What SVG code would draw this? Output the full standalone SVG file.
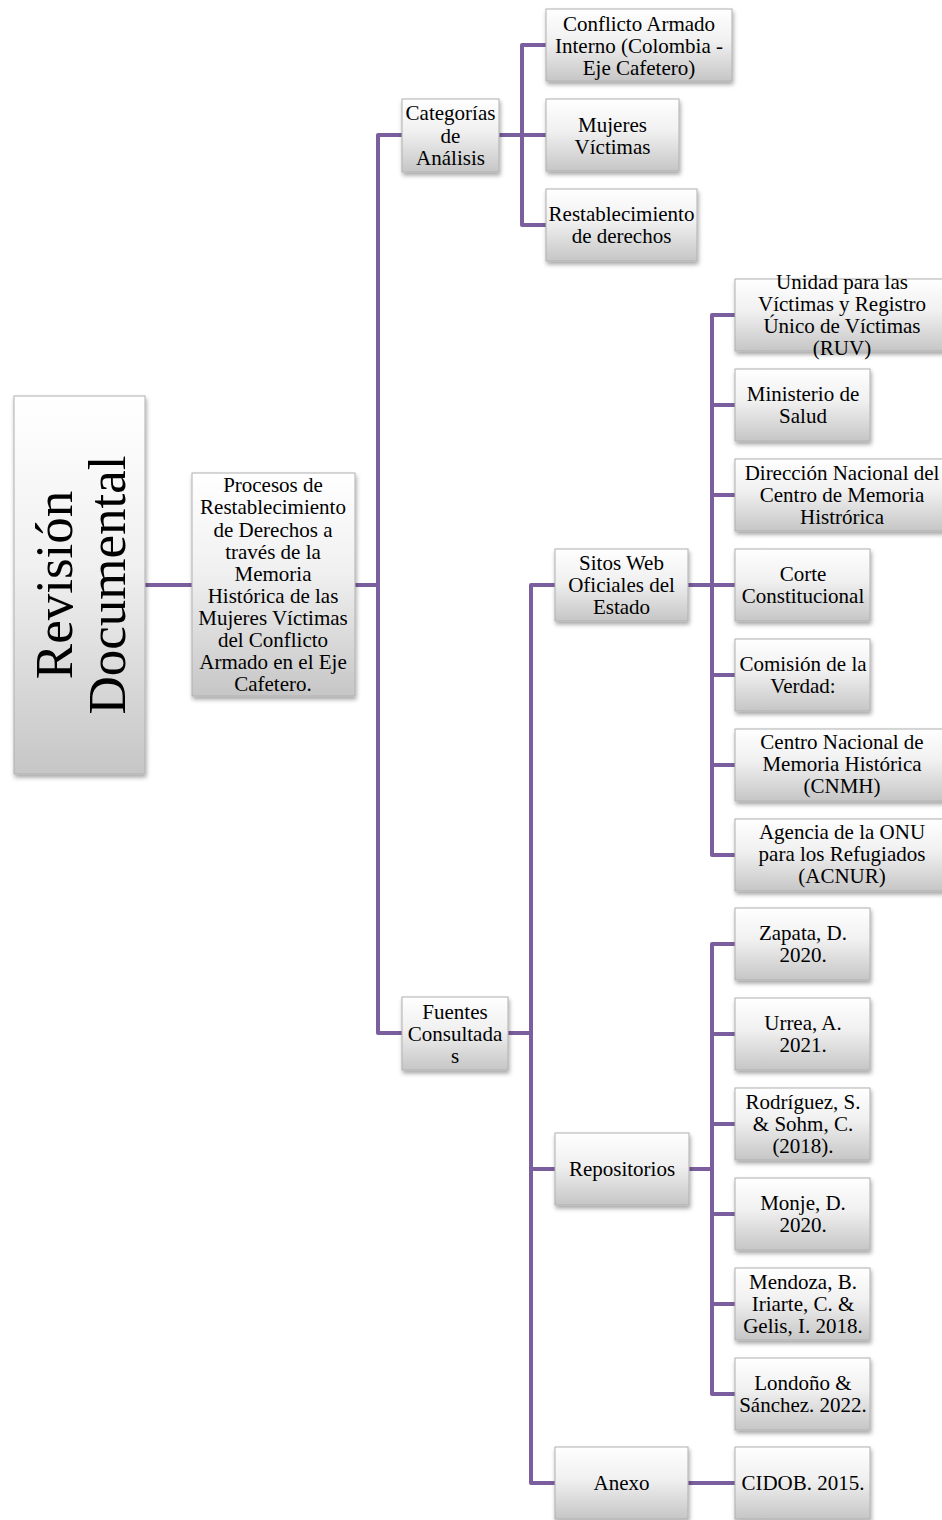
<svg xmlns="http://www.w3.org/2000/svg" width="942" height="1520" viewBox="0 0 942 1520">
<defs>
<linearGradient id="g" x1="0" y1="0" x2="0" y2="1">
<stop offset="0" stop-color="#ffffff"/>
<stop offset="0.45" stop-color="#f0f0f0"/>
<stop offset="1" stop-color="#c6c6c6"/>
</linearGradient>
<filter id="sh" x="-10%" y="-10%" width="125%" height="130%">
<feDropShadow dx="1" dy="3" stdDeviation="2" flood-color="#000" flood-opacity="0.35"/>
</filter>
</defs>
<style>
.b{fill:url(#g);stroke:#b0b0b0;stroke-width:1;filter:url(#sh)}
.hl{fill:none;stroke:#ffffff;stroke-width:1.5;opacity:0.8}
text{font-family:"Liberation Serif","Times New Roman",serif;font-size:21px;fill:#000;text-anchor:middle}
.big{font-size:53px}
.c{fill:none;stroke:#7b5e9e;stroke-width:4;stroke-linejoin:round}
</style>
<rect width="942" height="1520" fill="#ffffff"/>
<g id="connectors">
<path class="c" d="M145,585H192"/>
<path class="c" d="M355,585H378M402,135H378V1033H402"/>
<path class="c" d="M499,135H546M546,45H522V225H546"/>
<path class="c" d="M508,1033H531M555,585H531V1483H555M531,1169H555"/>
<path class="c" d="M688,585H735M735,315H712V855H735M712,405H735M712,495H735M712,675H735M712,765H735"/>
<path class="c" d="M689,1169H712M735,944H712V1394H735M712,1034H735M712,1124H735M712,1214H735M712,1304H735"/>
<path class="c" d="M688,1483H735"/>
</g>
<g id="revision"><rect class="b" x="14" y="396" width="131" height="378"/>
<text class="big" transform="translate(72,585) rotate(-90)">Revisión</text>
<text class="big" transform="translate(125,585) rotate(-90)">Documental</text></g>
<g id="procesos"><rect class="b" x="192" y="473" width="163" height="223"/>
<text x="273" y="492">Procesos de</text><text x="273" y="514">Restablecimiento</text><text x="273" y="537">de Derechos a</text><text x="273" y="559">través de la</text><text x="273" y="581">Memoria</text><text x="273" y="603">Histórica de las</text><text x="273" y="625">Mujeres Víctimas</text><text x="273" y="647">del Conflicto</text><text x="273" y="669">Armado en el Eje</text><text x="273" y="691">Cafetero.</text></g>
<g id="categorias"><rect class="b" x="402" y="99" width="97" height="73"/>
<text x="450.5" y="120">Categorías</text><text x="450.5" y="143">de</text><text x="450.5" y="165">Análisis</text></g>
<g id="conflicto"><rect class="b" x="546" y="9" width="186" height="72"/>
<text x="639" y="31">Conflicto Armado</text><text x="639" y="53">Interno (Colombia -</text><text x="639" y="75">Eje Cafetero)</text></g>
<g id="mujeres"><rect class="b" x="546" y="99" width="133" height="72"/>
<text x="612.5" y="132">Mujeres</text><text x="612.5" y="154">Víctimas</text></g>
<g id="restablecimiento"><rect class="b" x="546" y="189" width="151" height="72"/>
<text x="621.5" y="221">Restablecimiento</text><text x="621.5" y="243">de derechos</text></g>
<g id="fuentes"><rect class="b" x="402" y="997" width="106" height="73"/>
<text x="455" y="1019">Fuentes</text><text x="455" y="1041">Consultada</text><text x="455" y="1063">s</text></g>
<g id="sitos"><rect class="b" x="555" y="549" width="133" height="72"/>
<text x="621.5" y="570">Sitos Web</text><text x="621.5" y="592">Oficiales del</text><text x="621.5" y="614">Estado</text></g>
<g id="repositorios"><rect class="b" x="555" y="1133" width="134" height="72"/>
<text x="622" y="1176">Repositorios</text></g>
<g id="anexo"><rect class="b" x="555" y="1447" width="133" height="72"/>
<text x="621.5" y="1490">Anexo</text></g>
<g id="unidad"><rect class="b" x="735" y="279" width="214" height="72"/>
<text x="842" y="289">Unidad para las</text><text x="842" y="311">Víctimas y Registro</text><text x="842" y="333">Único de Víctimas</text><text x="842" y="355">(RUV)</text></g>
<g id="ministerio"><rect class="b" x="735" y="369" width="135" height="72"/>
<text x="803" y="401">Ministerio de</text><text x="803" y="423">Salud</text></g>
<g id="direccion"><rect class="b" x="735" y="459" width="214" height="72"/>
<text x="842" y="480">Dirección Nacional del</text><text x="842" y="502">Centro de Memoria</text><text x="842" y="524">Histrórica</text></g>
<g id="corte"><rect class="b" x="735" y="549" width="135" height="72"/>
<text x="803" y="581">Corte</text><text x="803" y="603">Constitucional</text></g>
<g id="comision"><rect class="b" x="735" y="639" width="135" height="72"/>
<text x="803" y="671">Comisión de la</text><text x="803" y="693">Verdad:</text></g>
<g id="centro"><rect class="b" x="735" y="729" width="214" height="72"/>
<text x="842" y="749">Centro Nacional de</text><text x="842" y="771">Memoria Histórica</text><text x="842" y="793">(CNMH)</text></g>
<g id="agencia"><rect class="b" x="735" y="819" width="214" height="72"/>
<text x="842" y="839">Agencia de la ONU</text><text x="842" y="861">para los Refugiados</text><text x="842" y="883">(ACNUR)</text></g>
<g id="zapata"><rect class="b" x="735" y="908" width="135" height="72"/>
<text x="803" y="940">Zapata, D.</text><text x="803" y="962">2020.</text></g>
<g id="urrea"><rect class="b" x="735" y="998" width="135" height="72"/>
<text x="803" y="1030">Urrea, A.</text><text x="803" y="1052">2021.</text></g>
<g id="rodriguez"><rect class="b" x="735" y="1088" width="135" height="72"/>
<text x="803" y="1109">Rodríguez, S.</text><text x="803" y="1131">&amp; Sohm, C.</text><text x="803" y="1153">(2018).</text></g>
<g id="monje"><rect class="b" x="735" y="1178" width="135" height="72"/>
<text x="803" y="1210">Monje, D.</text><text x="803" y="1232">2020.</text></g>
<g id="mendoza"><rect class="b" x="735" y="1268" width="135" height="72"/>
<text x="803" y="1289">Mendoza, B.</text><text x="803" y="1311">Iriarte, C. &amp;</text><text x="803" y="1333">Gelis, I. 2018.</text></g>
<g id="londono"><rect class="b" x="735" y="1358" width="135" height="72"/>
<text x="803" y="1390">Londoño &amp;</text><text x="803" y="1412">Sánchez. 2022.</text></g>
<g id="cidob"><rect class="b" x="735" y="1447" width="135" height="72"/>
<text x="803" y="1490">CIDOB. 2015.</text></g>
</svg>
